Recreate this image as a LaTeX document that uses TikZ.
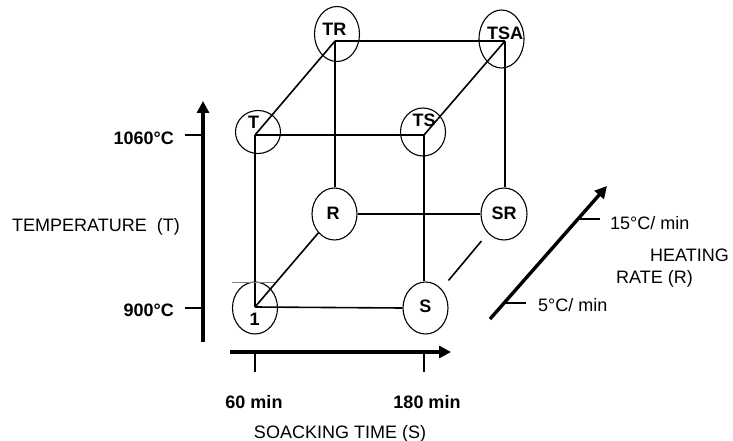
\documentclass[tikz,border=0pt]{standalone}
\usepackage{fontspec}
\setmainfont{Liberation Sans}
\usetikzlibrary{shapes.geometric,arrows.meta}
\begin{document}
\begin{tikzpicture}[x=1pt,y=-1pt,
  txt/.style={inner sep=0pt,font=\fontsize{18}{21}\selectfont},
  btxt/.style={inner sep=0pt,font=\fontsize{18}{21}\selectfont\bfseries},
  ell/.style={draw,ellipse,inner sep=0pt,line width=1.1pt,minimum width=45pt,minimum height=52pt},
  edge/.style={line width=1.6pt},
  axis/.style={line width=3.4pt,-{Triangle[length=12pt,width=12pt]}},
  tick/.style={line width=1.5pt}]
\useasboundingbox (0,0) rectangle (733,441);
% vertices
\coordinate (v1) at (255,307);
\coordinate (vS) at (425,307);
\coordinate (vT) at (255,135);
\coordinate (vTS) at (424,135);
\coordinate (vTR) at (335,41);
\coordinate (vTSA) at (505,41);
% circles
\node[ell] (e1) at (255,308) {};
\node[ell] (eS) at (425.5,308) {};
\node[ell] (eR) at (334.5,214) {};
\node[ell,minimum width=46pt] (eSR) at (504,214) {};
\node[ell,minimum height=43pt] (eT) at (258,132) {};
\node[ell,minimum height=48pt] (eTS) at (423,132) {};
\node[ell,minimum height=55pt] (eTR) at (337,34) {};
\node[ell,minimum height=58pt] (eTSA) at (501.5,39) {};
% labels
\node[btxt,anchor=base] (l1) at (254.7,325.5) {1};
\node[btxt,anchor=base] (lS) at (425.3,312) {S};
\node[btxt,anchor=base] (lR) at (333,219.3) {R};
\node[btxt,anchor=base] (lSR) at (504,219.3) {SR};
\node[btxt,anchor=base] (lT) at (253.5,128.3) {T};
\node[btxt,anchor=base] (lTS) at (424,126.7) {TS};
\node[btxt,anchor=base] (lTR) at (334.3,36) {TR};
\node[btxt,anchor=base] (lTSA) at (505,40) {TSA};
% cube edges
\draw[edge] (vT) -- (vTS);
\draw[edge] (vT) -- (vTR);
\draw[edge] (vTS) -- (vTSA);
\draw[edge] (vTR) -- (vTSA);
\draw[edge] (vT) -- (v1);
\draw[edge] (vTS) -- (vTS |- eS.north);
\draw[edge] (vTR) -- (vTR |- eR.north);
\draw[edge] (vTSA) -- (vTSA |- eSR.north);
\draw[edge] (eR.east) -- (eSR.west);
\draw[edge] (v1) -- (eS.west);
\draw[edge] (v1) -- (eR);
\draw[edge,shorten <=11pt,shorten >=10pt] (eS) -- (eSR);
\draw[gray,line width=0.4pt] (232,282) -- (275,282);
% temperature axis
\coordinate (ta0) at (203,342);
\coordinate (ta1) at (203,101);
\draw[axis] (ta0) -- (ta1);
\coordinate (tk1a) at (185,135); \coordinate (tk1b) at (203,135);
\coordinate (tk2a) at (185,308); \coordinate (tk2b) at (203,308);
\draw[tick] (tk1a) -- (tk1b);
\draw[tick] (tk2a) -- (tk2b);
\node[btxt,anchor=base east] (t1060) at (174,144) {1060°C};
\node[btxt,anchor=base east] (t900) at (174,316) {900°C};
\node[txt,anchor=base west] (ttemp) at (12,231.5) {TEMPERATURE\ \ (T)};
% soaking axis
\coordinate (sa0) at (230,352);
\coordinate (sa1) at (451,352);
\draw[axis,line width=3.2pt] (sa0) -- (sa1);
\coordinate (sk1a) at (255,352); \coordinate (sk1b) at (255,372);
\coordinate (sk2a) at (424,352); \coordinate (sk2b) at (424,372);
\draw[tick] (sk1a) -- (sk1b);
\draw[tick] (sk2a) -- (sk2b);
\node[btxt,anchor=base] (t60) at (254,408) {60 min};
\node[btxt,anchor=base] (t180) at (427,408) {180 min};
\node[txt,anchor=base] (tsoak) at (340,438) {SOACKING TIME (S)};
% heating rate axis
\coordinate (ha0) at (490,319);
\coordinate (ha1) at (607,186);
\draw[axis] (ha0) -- (ha1);
\coordinate (hk1a) at (504,303); \coordinate (hk1b) at (526,303);
\coordinate (hk2a) at (578,219); \coordinate (hk2b) at (600,219);
\draw[tick] (hk1a) -- (hk1b);
\draw[tick] (hk2a) -- (hk2b);
\node[txt,anchor=base west] (t5) at (538,311.5) {5°C/ min};
\node[txt,anchor=base west] (t15) at (610,229) {15°C/ min};
\node[txt,anchor=base west] (theat) at (650,261.5) {HEATING};
\node[txt,anchor=base west] (trate) at (616,283) {RATE (R)};
\end{tikzpicture}
\end{document}
